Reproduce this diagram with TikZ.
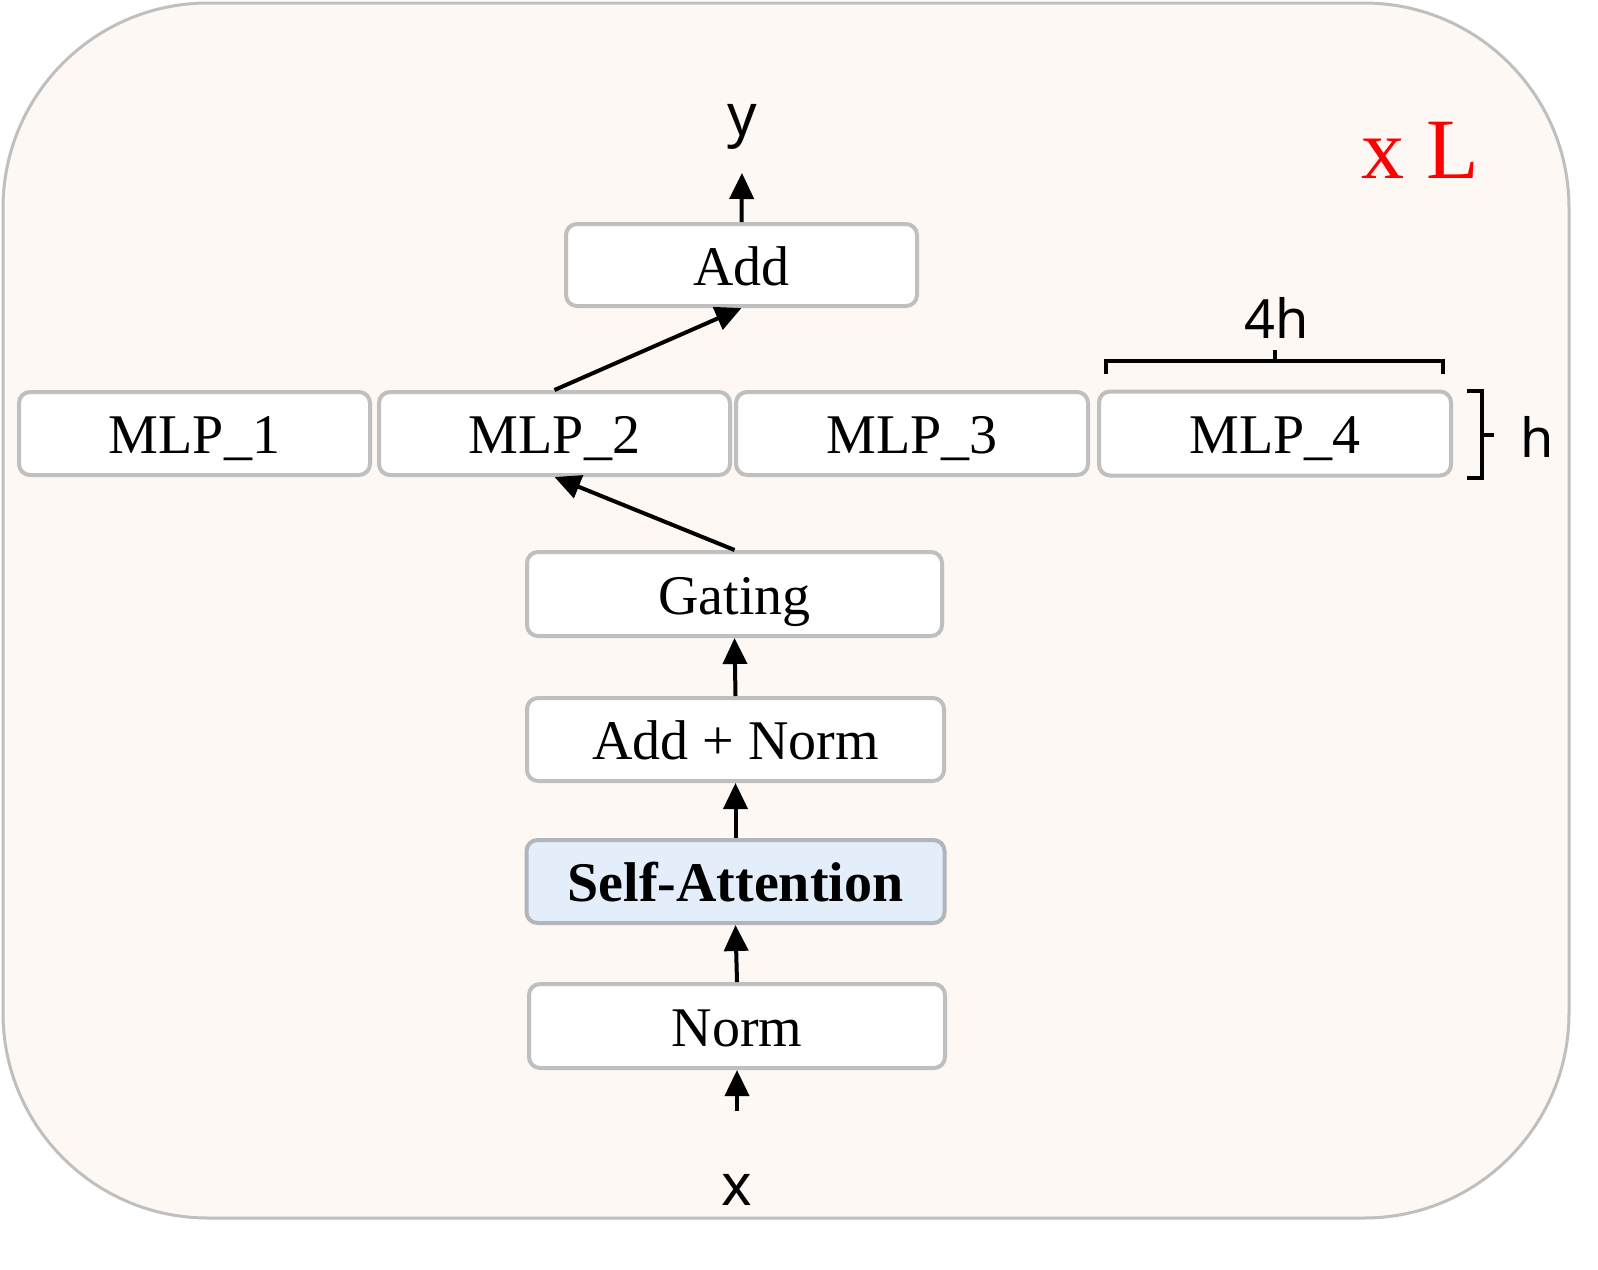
\documentclass[tikz,border=0pt]{standalone}
\usepackage{fontspec}
\setmainfont{Liberation Serif}
\newfontfamily\sansf{Noto Sans}
\usetikzlibrary{arrows.meta}
\definecolor{bgfill}{HTML}{FDF8F4}
\definecolor{boxline}{HTML}{BFBFBF}
\definecolor{safill}{HTML}{E3EEFA}
\definecolor{saline}{HTML}{B0B6BC}
\tikzset{
  blk/.style={draw=boxline, line width=4pt, fill=white, rounded corners=11pt,
    inner sep=0pt, text height=40pt, text depth=0pt, font=\fontsize{56}{60}\selectfont},
  arr/.style={line width=4pt, -{Triangle[length=26pt,width=24pt]}},
  brc/.style={line width=4pt, line cap=butt},
  lbl/.style={inner sep=0pt, font=\sansf\fontsize{58}{62}\selectfont}
}
\begin{document}
\begin{tikzpicture}[x=1pt,y=-1pt]
\useasboundingbox (0,0) rectangle (1598,1269);
\draw[draw=boxline, line width=3pt, fill=bgfill, rounded corners=205pt] (3,3) rectangle (1569,1218);

\node[blk, minimum width=351pt, minimum height=82pt] (add) at (741.5,265) {Add};
\node[blk, minimum width=351pt, minimum height=83pt] (mlp1) at (194.5,433.5) {MLP\_1};
\node[blk, minimum width=351pt, minimum height=83pt] (mlp2) at (554.5,433.5) {MLP\_2};
\node[blk, minimum width=352pt, minimum height=83pt] (mlp3) at (912,433.5) {MLP\_3};
\node[blk, minimum width=352pt, minimum height=84pt] (mlp4) at (1275,433.5) {MLP\_4};
\node[blk, minimum width=415pt, minimum height=84pt] (gate) at (734.5,594) {Gating};
\node[blk, minimum width=417pt, minimum height=83pt] (addnorm) at (735.5,739.5) {Add + Norm};
\node[blk, draw=saline, fill=safill, minimum width=418pt, minimum height=83pt] (sa) at (735.5,881.5) {\bfseries Self-Attention};
\node[blk, minimum width=416pt, minimum height=84pt] (norm) at (737,1026) {Norm};

\node[lbl] (ylab) at (742,127) {y};
\node[lbl] (xlab) at (737,1190) {x};
\coordinate (ytip) at (742,173);
\coordinate (xtail) at (737,1111);

\node[inner sep=0pt, text=red, font=\fontsize{86}{90}\selectfont] (xl) at (1420,150) {x L};

\draw[arr] (add.north) -- (ytip);
\draw[arr] (mlp2.north) -- (add.south);
\draw[arr] (gate.north) -- (mlp2.south);
\draw[arr] (addnorm.north) -- (gate.south);
\draw[arr] (sa.north) -- (addnorm.south);
\draw[arr] (norm.north) -- (sa.south);
\draw[arr] (xtail) -- (norm.south);

% brace over MLP_4
\coordinate (bl) at (1106,374);
\coordinate (br) at (1443,374);
\coordinate (bm) at (1275,361);
\draw[brc] (bl) -- (1106,361) -- (1443,361) -- (br);
\draw[brc] (bm) -- (1275,350);
\node[lbl, font=\sansf\fontsize{54}{58}\selectfont] (fourh) at (1277,318) {4h};

% right brace
\draw[brc] (1467,391) -- (1482,391) -- (1482,478) -- (1467,478);
\draw[brc] (1482,435) -- (1494,435);
\node[lbl, font=\sansf\fontsize{54}{58}\selectfont] (hlab) at (1537,437) {h};
\end{tikzpicture}
\end{document}
